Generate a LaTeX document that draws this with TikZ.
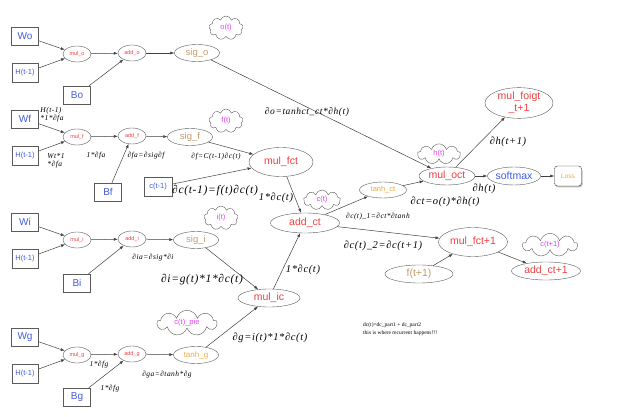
\documentclass[tikz,border=0pt]{standalone}
\usepackage{fontspec}
\setmainfont{Liberation Serif}
\setsansfont{Liberation Sans}
\newfontfamily\gradFont{Liberation Serif}[LetterSpace=6]
\usetikzlibrary{shapes.geometric,shapes.symbols,shadows,arrows.meta}
\definecolor{inputBlue}{RGB}{64,92,226}
\definecolor{opRed}{RGB}{240,62,62}
\definecolor{sigBrown}{RGB}{196,156,108}
\definecolor{tanhOrange}{RGB}{244,168,64}
\definecolor{cloudPink}{RGB}{228,64,240}
\definecolor{lineGray}{RGB}{90,90,90}
\tikzstyle{inputBox} = [draw=lineGray, rectangle, minimum width=27pt, minimum height=18pt, inner sep=0pt, text=inputBlue, font=\sffamily\fontsize{10}{10}\selectfont]
\tikzstyle{stateBox} = [inputBox, minimum width=26pt, minimum height=19pt, font=\sffamily\fontsize{7.5}{8}\selectfont]
\tikzstyle{tinyOp} = [draw=lineGray, ellipse, minimum width=28pt, minimum height=16pt, inner sep=0pt, text=opRed, font=\sffamily\fontsize{5.5}{6}\selectfont]
\tikzstyle{gateOp} = [draw=lineGray, ellipse, minimum width=45pt, minimum height=17pt, inner sep=0pt, font=\sffamily\fontsize{9.5}{10}\selectfont]
\tikzstyle{bigOp} = [draw=lineGray, ellipse, minimum width=66pt, minimum height=29pt, inner sep=0pt, text=opRed, font=\sffamily\fontsize{10.5}{11}\selectfont]
\tikzstyle{midOp} = [bigOp, minimum height=19pt]
\tikzstyle{stateCloud} = [draw=lineGray, cloud, cloud puffs=9, cloud ignores aspect, inner sep=2pt, text=cloudPink, font=\sffamily\fontsize{7.5}{8}\selectfont]
\tikzstyle{lossBox} = [draw=black!80, fill=white, rounded corners=3pt, minimum width=27pt, minimum height=20pt, inner sep=0pt, drop shadow={shadow xshift=1pt, shadow yshift=-1.5pt, opacity=0.5}, text=tanhOrange, font=\sffamily\fontsize{6.5}{7}\selectfont]
\tikzstyle{gradLabel} = [inner sep=0pt, font=\gradFont\itshape\fontsize{10.5}{11}\selectfont]
\tikzstyle{smallGrad} = [inner sep=0pt, font=\gradFont\itshape\fontsize{7.5}{8}\selectfont]
\tikzstyle{flow} = [draw=black!75, line width=0.5pt, -{Latex[length=4pt,width=3pt]}]
% one gate input row: W, H(t-1), B, mul and add
\newcommand{\gateRow}[4]{
  \node [inputBox] (w#1) at (25, #2 - 18) {W#1};
  \node [stateBox] (h#1) at (25, #2 + 19) {H(t-1)};
  \node [tinyOp] (mul#1) at (77, #2) {mul\_#1};
  \node [tinyOp] (add#1) at (132, #2 - 1) {add\_#1};
  \node [inputBox] (b#1) at (#3, #4) {B#1};
  \draw [flow] (w#1) -- (mul#1);
  \draw [flow] (h#1) -- (mul#1);
  \draw [flow] (mul#1) -- (add#1);
  \draw [flow] (b#1) -- (add#1);
}

\begin{document}
\begin{tikzpicture}[x=1pt, y=-1pt]
  \useasboundingbox (0,0) rectangle (627,417);
  \gateRow{o}{54}{77}{95}
  \gateRow{f}{137}{108}{192}
  \gateRow{i}{240}{77}{283}
  \gateRow{g}{355}{77}{397}

  \node [gateOp, text=sigBrown] (sigo) at (197,53) {sig\_o};
  \node [gateOp, text=sigBrown] (sigf) at (190,137) {sig\_f};
  \node [gateOp, text=sigBrown] (sigi) at (196,240) {sig\_i};
  \node [gateOp, text=tanhOrange, font=\sffamily\fontsize{8}{8}\selectfont] (tanhg) at (196,355) {tanh\_g};

  \node [stateCloud, minimum width=34pt, minimum height=24pt] (ot) at (226,28) {o(t)};
  \node [stateCloud, minimum width=34pt, minimum height=24pt] (ft) at (226,121) {f(t)};
  \node [stateCloud, minimum width=34pt, minimum height=24pt] (it) at (221,218) {i(t)};
  \node [stateCloud, minimum width=60pt, minimum height=23pt] (ctpie) at (187,323) {c(t)\_pie};
  \node [stateCloud, minimum width=37pt, minimum height=19pt] (ct) at (322,200) {c(t)};
  \node [stateCloud, minimum width=43pt, minimum height=18pt] (ht) at (439,154) {h(t)};
  \node [stateCloud, minimum width=55pt, minimum height=19pt] (ctnext) at (550,245) {c(t+1)};

  \node [bigOp, minimum width=64pt] (mulfct) at (281,162) {mul\_fct};
  \node [stateBox, minimum width=28pt] (ctprev) at (158,187) {c(t-1)};
  \node [midOp, minimum width=62pt, minimum height=18pt] (mulic) at (269,298) {mul\_ic};
  \node [midOp, minimum width=69pt, minimum height=20pt] (addct) at (305,223) {add\_ct};
  \node [gateOp, minimum width=47pt, minimum height=16pt, text=tanhOrange, font=\sffamily\fontsize{7.5}{8}\selectfont] (tanhct) at (383,190) {tanh\_ct};
  \node [midOp, minimum width=56pt, minimum height=18pt] (muloct) at (447,176) {mul\_oct};
  \node [bigOp, minimum width=68pt, minimum height=30pt, align=center, font=\sffamily\fontsize{10.5}{12}\selectfont] (mulfoigt) at (519,103) {mul\_foigt\\\_t+1};
  \node [midOp, minimum width=53pt, minimum height=18pt, text=inputBlue] (softmax) at (514,176) {softmax};
  \node [lossBox] (loss) at (568,176) {Loss};
  \node [bigOp, minimum width=69pt] (mulfctnext) at (473,242) {mul\_fct+1};
  \node [midOp, minimum width=68pt, minimum height=18pt, text=sigBrown] (ftnext) at (419,274) {f(t+1)};
  \node [midOp, minimum width=69pt, minimum height=18pt] (addctnext) at (546,271) {add\_ct+1};

  \draw [flow] (addo) -- (sigo);
  \draw [flow] (addf) -- (sigf);
  \draw [flow] (addi) -- (sigi);
  \draw [flow] (addg) -- (tanhg);
  \draw [flow] (sigo) -- (muloct);
  \draw [flow] (sigf) -- (mulfct);
  \draw [flow] (ctprev) -- (mulfct);
  \draw [flow] (mulfct) -- (addct);
  \draw [flow] (sigi) -- (mulic);
  \draw [flow] (tanhg) -- (mulic);
  \draw [flow] (mulic) -- (addct);
  \draw [flow] (addct) -- (tanhct);
  \draw [flow] (tanhct) -- (muloct);
  \draw [flow] (addct) -- (mulfctnext);
  \draw [flow] (muloct) -- (mulfoigt);
  \draw [flow] (muloct) -- (softmax);
  \draw [flow] (softmax) -- (loss);
  \draw [flow] (ftnext) -- (mulfctnext);
  \draw [flow] (mulfctnext) -- (addctnext);

  % gradient labels
  \node [smallGrad, align=left] (lblHfa) at (52,115) {H(t-1)\\*1*∂fa};
  \node [smallGrad, align=left] (lblWfa) at (56,161) {Wt*1\\*∂fa};
  \node [smallGrad] (lblMulf) at (96,156) {1*∂fa};
  \node [smallGrad] (lblAddf) at (146,156) {∂fa=∂sig∂f};
  \node [smallGrad] (lblSigf) at (216,157) {∂f=C(t-1)∂c(t)};
  \node [gradLabel, font=\gradFont\itshape\fontsize{11.5}{12}\selectfont] (lblCprev) at (215,191) {∂c(t-1)=f(t)∂c(t)};
  \node [gradLabel] (lblFct) at (276,198) {1*∂c(t)};
  \node [gradLabel, font=\gradFont\itshape\fontsize{9.5}{10}\selectfont] (lblSigo) at (307,112) {∂o=tanhct\_ct*∂h(t)};
  \node [smallGrad] (lblAddi) at (153,258) {∂ia=∂sig*∂i};
  \node [gradLabel, font=\gradFont\itshape\fontsize{11.5}{12}\selectfont] (lblSigi) at (202,280) {∂i=g(t)*1*∂c(t)};
  \node [gradLabel] (lblIc) at (303,270) {1*∂c(t)};
  \node [smallGrad] (lblMulg) at (99,365) {1*∂fg};
  \node [smallGrad] (lblAddg) at (167,375) {∂ga=∂tanh*∂g};
  \node [smallGrad] (lblBg) at (110,389) {1*∂fg};
  \node [gradLabel] (lblTanhg) at (270,338) {∂g=i(t)*1*∂c(t)};
  \node [gradLabel] (lblFoigt) at (508,142) {∂h(t+1)};
  \node [gradLabel] (lblSoftmax) at (484,189) {∂h(t)};
  \node [gradLabel] (lblOct) at (445,202) {∂ct=o(t)*∂h(t)};
  \node [smallGrad] (lblTanhct) at (378,217) {∂c(t)\_1=∂ct*∂tanh};
  \node [gradLabel] (lblNext) at (383,246) {∂c(t)\_2=∂c(t+1)};

  \node [anchor=north west, align=left, inner sep=0pt, font=\fontsize{5.5}{8.5}\selectfont] (recurNote) at (363,322) {dc(t)=dc\_part1 + dc\_part2\\this is where recurrent happens!!!};
\end{tikzpicture}
\end{document}
